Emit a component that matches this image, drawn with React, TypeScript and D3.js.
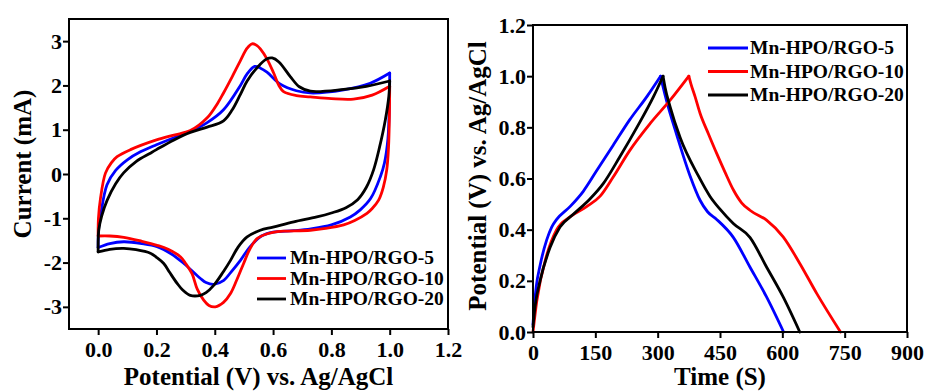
import { useRef, useEffect } from "react";
import * as d3 from "d3";

const seriesNames = ["Mn-HPO/RGO-5", "Mn-HPO/RGO-10", "Mn-HPO/RGO-20"];
const seriesColors = ["#0000ff", "#ff0000", "#000000"];

// CV curves: [potential (V), current (mA)]
const cv5Anodic = [[0, -1.66], [0.002, -1.2], [0.008, -0.95], [0.03, -0.25], [0.06, 0.08], [0.1, 0.32], [0.145, 0.5], [0.2, 0.66], [0.26, 0.82], [0.316, 0.96], [0.374, 1.16], [0.43, 1.45], [0.488, 2.0], [0.511, 2.26], [0.537, 2.43], [0.557, 2.39], [0.579, 2.3], [0.625, 2.03], [0.68, 1.88], [0.728, 1.83], [0.842, 1.9], [0.933, 2.05], [1.0, 2.28]];
const cv5Cathodic = [[1.0, 2.28], [0.999, 1.6], [0.994, 0.8], [0.982, 0.25], [0.968, -0.06], [0.935, -0.55], [0.899, -0.81], [0.865, -0.97], [0.8, -1.15], [0.73, -1.24], [0.671, -1.28], [0.6, -1.31], [0.56, -1.4], [0.52, -1.65], [0.488, -1.95], [0.455, -2.22], [0.431, -2.4], [0.397, -2.49], [0.37, -2.45], [0.351, -2.36], [0.294, -2.02], [0.25, -1.8], [0.202, -1.64], [0.15, -1.57], [0.088, -1.53], [0.04, -1.57], [0.0, -1.66]];

const cv10Anodic = [[0, -1.4], [0.001, -1.0], [0.008, -0.55], [0.025, 0.02], [0.045, 0.25], [0.065, 0.39], [0.111, 0.55], [0.2, 0.77], [0.26, 0.88], [0.316, 0.98], [0.374, 1.27], [0.41, 1.6], [0.43, 1.83], [0.46, 2.2], [0.488, 2.56], [0.511, 2.84], [0.528, 2.94], [0.545, 2.9], [0.557, 2.82], [0.579, 2.6], [0.602, 2.28], [0.62, 2.0], [0.636, 1.86], [0.68, 1.77], [0.728, 1.74], [0.8, 1.7], [0.876, 1.69], [0.94, 1.78], [1.0, 1.98]];
const cv10Cathodic = [[1.0, 1.98], [0.999, 1.3], [0.996, 0.6], [0.99, 0.1], [0.978, -0.3], [0.962, -0.59], [0.94, -0.78], [0.922, -0.89], [0.88, -1.05], [0.842, -1.15], [0.78, -1.23], [0.728, -1.27], [0.65, -1.29], [0.614, -1.3], [0.58, -1.35], [0.545, -1.46], [0.52, -1.7], [0.499, -2.02], [0.475, -2.4], [0.454, -2.7], [0.43, -2.9], [0.402, -3.0], [0.38, -2.97], [0.362, -2.85], [0.34, -2.6], [0.322, -2.25], [0.3, -2.02], [0.282, -1.87], [0.24, -1.7], [0.202, -1.61], [0.15, -1.52], [0.088, -1.43], [0.04, -1.4], [0.0, -1.4]];

const cv20Anodic = [[0, -1.76], [0.002, -1.27], [0.012, -0.95], [0.031, -0.59], [0.06, -0.22], [0.088, 0.03], [0.13, 0.28], [0.179, 0.47], [0.2, 0.55], [0.26, 0.77], [0.316, 0.94], [0.374, 1.06], [0.43, 1.2], [0.46, 1.45], [0.488, 1.8], [0.511, 2.1], [0.545, 2.4], [0.579, 2.6], [0.597, 2.62], [0.62, 2.53], [0.659, 2.2], [0.69, 1.97], [0.728, 1.87], [0.842, 1.91], [0.92, 1.98], [1.0, 2.1]];
const cv20Cathodic = [[1.0, 2.1], [0.997, 1.75], [0.985, 1.22], [0.965, 0.6], [0.945, 0.1], [0.92, -0.3], [0.89, -0.58], [0.85, -0.76], [0.8, -0.88], [0.75, -0.97], [0.671, -1.08], [0.6, -1.2], [0.556, -1.27], [0.511, -1.42], [0.48, -1.65], [0.454, -1.95], [0.43, -2.2], [0.397, -2.51], [0.37, -2.68], [0.351, -2.74], [0.316, -2.74], [0.29, -2.62], [0.271, -2.47], [0.245, -2.22], [0.225, -2.02], [0.2, -1.88], [0.179, -1.79], [0.13, -1.71], [0.088, -1.68], [0.04, -1.7], [0.0, -1.76]];

const cvXTicks = [0, 0.2, 0.4, 0.6, 0.8, 1.0, 1.2];
const cvYTicks = [-3, -2, -1, 0, 1, 2, 3];

// GCD curves: [time (s), potential (V)]
const gcd5Charge = [[0, 0.03], [3, 0.1], [8, 0.18], [17, 0.26], [33, 0.36], [45, 0.41], [57, 0.44], [89, 0.49], [121, 0.55], [153, 0.63], [193, 0.73], [233, 0.83], [274, 0.92], [307, 1.0]];
const gcd5Discharge = [[307, 1.0], [312, 0.965], [322, 0.9], [346, 0.77], [378, 0.61], [402, 0.515], [420, 0.47], [442, 0.44], [482, 0.37], [522, 0.254], [562, 0.137], [603, 0.0]];

const gcd10Charge = [[0, 0.0], [9, 0.12], [33, 0.3], [57, 0.4], [89, 0.45], [129, 0.49], [161, 0.53], [193, 0.606], [233, 0.71], [282, 0.815], [330, 0.906], [375, 1.0]];
const gcd10Discharge = [[375, 1.0], [380, 0.97], [390, 0.92], [402, 0.855], [422, 0.775], [442, 0.698], [462, 0.625], [482, 0.556], [502, 0.505], [522, 0.476], [562, 0.437], [602, 0.372], [642, 0.268], [683, 0.15], [740, 0.0]];

const gcd20Charge = [[0, 0.02], [5, 0.1], [17, 0.2], [41, 0.33], [65, 0.41], [97, 0.46], [137, 0.52], [169, 0.58], [209, 0.685], [250, 0.8], [290, 0.92], [313, 1.0]];
const gcd20Discharge = [[313, 1.0], [318, 0.955], [330, 0.88], [354, 0.76], [398, 0.61], [426, 0.53], [450, 0.48], [482, 0.424], [522, 0.37], [562, 0.254], [602, 0.137], [642, 0.0]];

const gcdXTicks = [0, 150, 300, 450, 600, 750, 900];
const gcdYTicks = [0, 0.2, 0.4, 0.6, 0.8, 1.0, 1.2];

const FONT = "'Liberation Serif', 'Times New Roman', serif";

const App = () => {
  const svgRef = useRef(null);

  useEffect(() => {
    const svg = d3.select(svgRef.current);
    svg.selectAll("*").remove(); // clear

    drawPanel(svg, {
      box: { left: 69, top: 19, right: 448, bottom: 329 },
      xDomain: [-0.1, 1.2],
      yDomain: [-3.5, 3.5],
      xTicks: cvXTicks,
      yTicks: cvYTicks,
      xFormat: d3.format(".1f"),
      yFormat: (d) => String(d),
      series: [
        [cv5Anodic, cv5Cathodic],
        [cv10Anodic, cv10Cathodic],
        [cv20Anodic, cv20Cathodic],
      ],
      curve: d3.curveCatmullRom.alpha(0.5),
      xLabel: "Potential (V) vs. Ag/AgCl",
      yLabel: "Current (mA)",
      yLabelX: 31,
      yLabelY: 164,
      legend: { x1: 257, x2: 286, tx: 290, rows: [258, 278.5, 299] },
    });

    drawPanel(svg, {
      box: { left: 533, top: 25, right: 907, bottom: 332 },
      xDomain: [0, 900],
      yDomain: [0, 1.2],
      xTicks: gcdXTicks,
      yTicks: gcdYTicks,
      xFormat: (d) => String(d),
      yFormat: d3.format(".1f"),
      series: [
        [gcd5Charge, gcd5Discharge],
        [gcd10Charge, gcd10Discharge],
        [gcd20Charge, gcd20Discharge],
      ],
      curve: d3.curveMonotoneX,
      xLabel: "Time (S)",
      yLabel: "Potential (V) vs. Ag/AgCl",
      yLabelX: 486,
      yLabelY: 176,
      legend: { x1: 708, x2: 748, tx: 750, rows: [48, 71.5, 95] },
    });
  }, []);

  function drawPanel(svg, props) {
    const { box, xDomain, yDomain, xTicks, yTicks, xFormat, yFormat, series, curve, xLabel, yLabel, yLabelX, yLabelY, legend } = props;

    const xScale = d3.scaleLinear().domain(xDomain).range([box.left, box.right]);
    const yScale = d3.scaleLinear().domain(yDomain).range([box.bottom, box.top]);

    const g = svg.append("g");

    // curves
    const line = d3
      .line()
      .x((d) => xScale(d[0]))
      .y((d) => yScale(d[1]))
      .curve(curve);

    series.forEach((segments, i) => {
      segments.forEach((seg) => {
        g.append("path")
          .attr("d", line(seg))
          .attr("fill", "none")
          .attr("stroke", seriesColors[i])
          .attr("stroke-width", 2.8)
          .attr("stroke-linejoin", "round")
          .attr("stroke-linecap", "round");
      });
    });

    // axes
    const xAxis = d3.axisBottom(xScale).tickValues(xTicks).tickFormat(xFormat).tickSize(6).tickSizeOuter(0).tickPadding(6);
    const yAxis = d3.axisLeft(yScale).tickValues(yTicks).tickFormat(yFormat).tickSize(6).tickSizeOuter(0).tickPadding(1);

    const gx = g.append("g").attr("transform", `translate(0, ${box.bottom})`).call(xAxis);
    const gy = g.append("g").attr("transform", `translate(${box.left}, 0)`).call(yAxis);

    [gx, gy].forEach((ax) => {
      ax.select(".domain").remove();
      ax.selectAll("line").attr("stroke", "#000").attr("stroke-width", 2);
      ax.selectAll("text")
        .attr("fill", "#000")
        .attr("font-family", FONT)
        .attr("font-weight", "bold")
        .attr("font-size", 22);
    });

    // frame
    g.append("rect")
      .attr("x", box.left)
      .attr("y", box.top)
      .attr("width", box.right - box.left)
      .attr("height", box.bottom - box.top)
      .attr("fill", "none")
      .attr("stroke", "#000")
      .attr("stroke-width", 2);

    // axis titles
    g.append("text")
      .attr("x", (box.left + box.right) / 2)
      .attr("y", 385)
      .attr("text-anchor", "middle")
      .attr("font-family", FONT)
      .attr("font-weight", "bold")
      .attr("font-size", 25)
      .text(xLabel);

    g.append("text")
      .attr("transform", `translate(${yLabelX}, ${yLabelY}) rotate(-90)`)
      .attr("text-anchor", "middle")
      .attr("font-family", FONT)
      .attr("font-weight", "bold")
      .attr("font-size", 25)
      .text(yLabel);

    // legend
    seriesNames.forEach((name, i) => {
      const y = legend.rows[i];
      g.append("line")
        .attr("x1", legend.x1)
        .attr("x2", legend.x2)
        .attr("y1", y)
        .attr("y2", y)
        .attr("stroke", seriesColors[i])
        .attr("stroke-width", 2.8);
      g.append("text")
        .attr("x", legend.tx)
        .attr("y", y)
        .attr("dy", "0.33em")
        .attr("font-family", FONT)
        .attr("font-weight", "bold")
        .attr("font-size", 19.5)
        .text(name);
    });
  }

  return (
    <svg
      ref={svgRef}
      width={927}
      height={392}
      style={{ position: "absolute", left: 0, top: 0, background: "#fff" }}
    ></svg>
  );
};

export default App;
